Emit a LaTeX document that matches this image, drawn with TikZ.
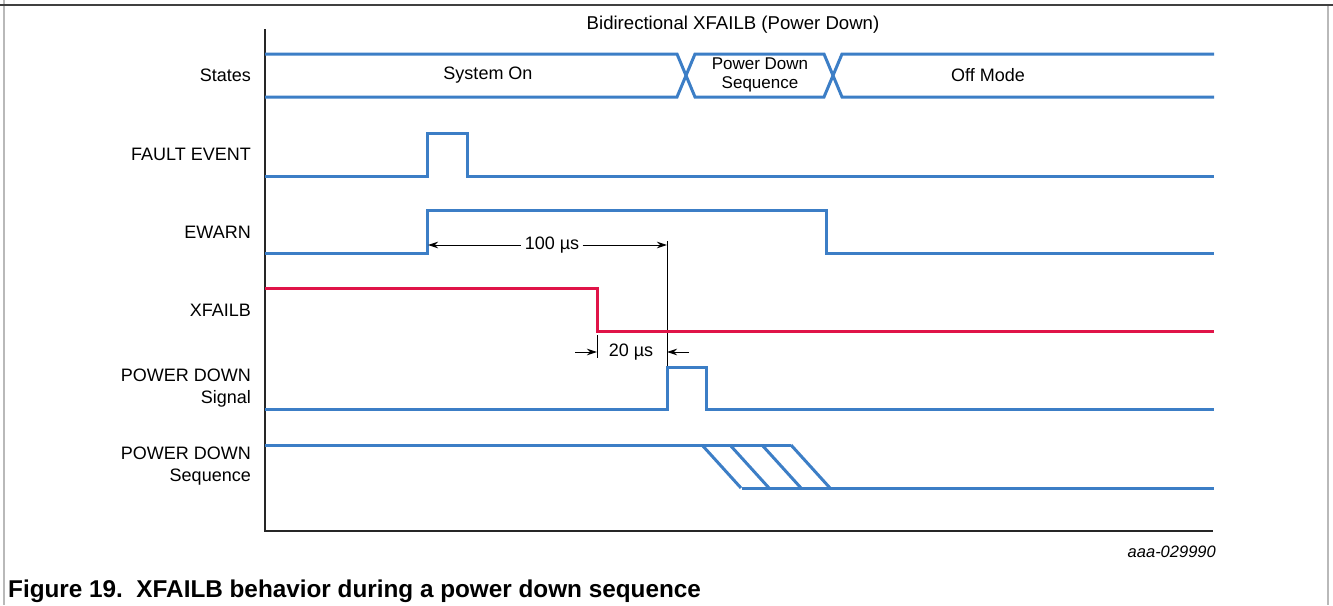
\documentclass[tikz,border=0pt]{standalone}
\usepackage{fontspec}
\setmainfont{Liberation Sans}
\usetikzlibrary{arrows.meta}
\definecolor{sigblue}{RGB}{60,126,198}
\definecolor{sigred}{RGB}{224,20,72}
\tikzset{
  sig/.style={sigblue, line width=3pt},
  lbl/.style={anchor=east, align=right, inner sep=0pt, font=\fontsize{18}{22}\selectfont},
  txt/.style={font=\fontsize{18}{22}\selectfont},
  dim/.style={line width=0.9pt},
}
\begin{document}
\begin{tikzpicture}[>={Stealth[length=10pt,width=6.5pt]}, x=1pt, y=-1pt]
\useasboundingbox (0,0) rectangle (1333,605);
% frame
\draw[gray!55, line width=1.2pt](4,0)--(4,605);
\draw[gray!55, line width=1.2pt](1328,5)--(1328,605);
\draw[black!75, line width=2.2pt](0,5)--(1333,5);
\node[font=\fontsize{18.6}{22}\selectfont] (title) at (733,25) {Bidirectional XFAILB (Power Down)};
% axes
\draw[black!85, line width=1.5pt](265,29)--(265,531)--(1213,531);

% labels
\node[lbl] (lStates) at (251,75) {States};
\node[lbl] (lFault) at (251,154) {FAULT EVENT};
\node[lbl] (lEwarn) at (251,232) {EWARN};
\node[lbl] (lXfail) at (251,310) {XFAILB};
\node[lbl] (lPdSig) at (251,388) {POWER DOWN\\Signal};
\node[lbl] (lPdSeq) at (251,466) {POWER DOWN\\Sequence};

% states bus
\draw[sig](265,54)--(677,54)--(695,97)--(824,97)--(842,54)--(1214,54);
\draw[sig](265,97)--(677,97)--(695,54)--(824,54)--(842,97)--(1214,97);
\node[txt] (sOn) at (488,75) {System On};
\node[align=center, inner sep=0pt, font=\fontsize{17}{19.5}\selectfont] (sSeq) at (760,75) {Power Down\\Sequence};
\node[txt] (sOff) at (988,75) {Off Mode};

% fault event
\draw[sig](265,176)--(427,176)--(427,133)--(467,133)--(467,176)--(1214,176);
% ewarn
\draw[sig](265,253)--(427,253)--(427,210)--(826,210)--(826,253)--(1214,253);

% 100 us
\draw[dim](667,241)--(667,367);
\node[txt] (t100) at (552,245) {100 µs};
\draw[dim,<-](428,245)--(t100.west);
\draw[dim,->](t100.east)--(667,245);

% xfailb
\draw[sigred, line width=3pt](265,288)--(597,288)--(597,331)--(1214,331);

% 20 us
\draw[dim](597,335)--(597,358);
\draw[dim,->](575,352)--(597,352);
\draw[dim,->](689,352)--(667,352);
\node[txt] (t20) at (631,352) {20 µs};

% power down signal
\draw[sig](265,409)--(667,409)--(667,367)--(706,367)--(706,409)--(1214,409);

% power down sequence
\draw[sig](265,445)--(791,445);
\draw[sig](742,488)--(1214,488);
\foreach \x in {702,730,762,791}
  \draw[sig](\x,445)--++(39,43);

\node[anchor=east, inner sep=0pt, font=\fontsize{16.5}{20}\itshape] (fig) at (1216,552) {aaa-029990};
\node[anchor=base west, inner sep=0pt, font=\fontsize{24.3}{28}\bfseries] (cap) at (8,597) {Figure 19.\ \ XFAILB behavior during a power down sequence};
\end{tikzpicture}
\end{document}
